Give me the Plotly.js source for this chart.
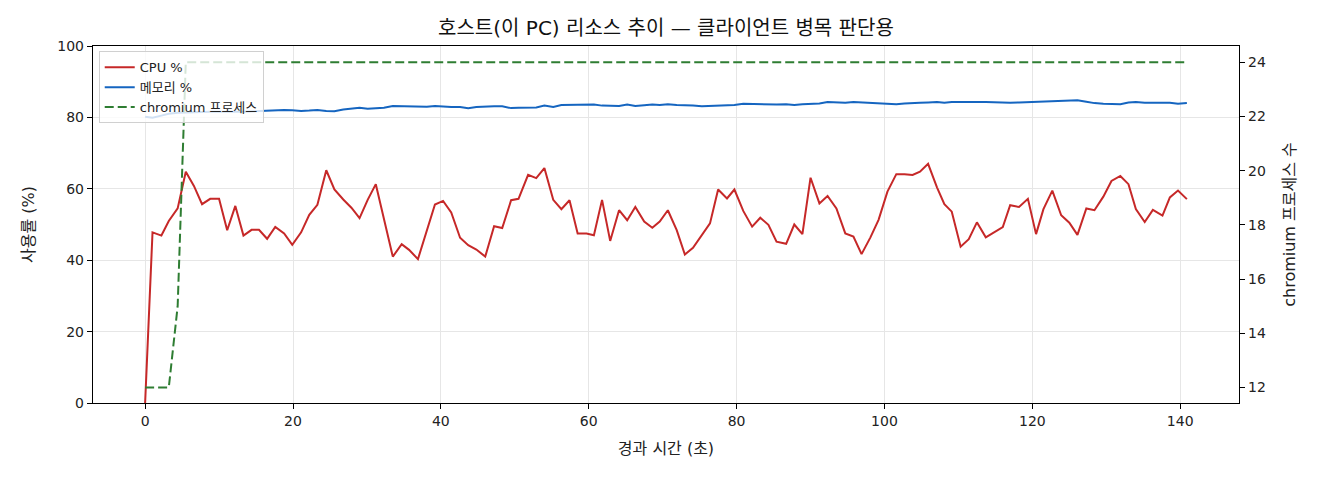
<!DOCTYPE html>
<html>
<head>
<meta charset="utf-8">
<script src="https://cdn.plot.ly/plotly-3.0.1.min.js"></script>
<style>
  html, body { margin: 0; padding: 0; background: #fff; }
  #plot { width: 1320px; height: 480px; }
</style>
</head>
<body>
<div id="plot"></div>
<script>
// elapsed seconds of each sample
const elapsed = [
    0, 1.0, 2.2, 3.2, 4.4, 5.5, 6.6, 7.7, 8.8, 10.0,
    11.1, 12.2, 13.3, 14.4, 15.4, 16.5, 17.6, 18.8, 19.9, 21.1,
    22.2, 23.3, 24.5, 25.6, 26.8, 27.9, 29.0, 30.1, 31.2, 32.3,
    33.5, 34.7, 35.7, 36.9, 38.1, 39.2, 40.3, 41.4, 42.6, 43.7,
    44.8, 46.0, 47.2, 48.3, 49.5, 50.5, 51.8, 52.9, 54.0, 55.2,
    56.3, 57.4, 58.5, 59.7, 60.7, 61.8, 62.9, 64.1, 65.2, 66.3,
    67.5, 68.6, 69.6, 70.7, 71.9, 73.0, 74.1, 75.3, 76.4, 77.5,
    78.7, 79.7, 80.9, 82.1, 83.2, 84.3, 85.4, 86.7, 87.8, 88.9,
    90.0, 91.2, 92.3, 93.5, 94.7, 95.8, 96.9, 98.1, 99.2, 100.4,
    101.6, 102.7, 103.8, 104.8, 105.9, 107.1, 108.1, 109.1, 110.3, 111.4,
    112.5, 113.7, 114.9, 116.0, 117.0, 118.2, 119.4, 120.5, 121.5, 122.7,
    123.9, 125.0, 126.1, 127.3, 128.4, 129.6, 130.7, 131.9, 133.0, 134.0,
    135.2, 136.3, 137.6, 138.6, 139.7, 140.9
]

const cpu_pct = [
    0, 47.8, 46.9, 51, 54.5, 64.8, 60.8, 55.7, 57.2, 57.2,
    48.4, 55.2, 46.9, 48.5, 48.5, 46, 49.3, 47.5, 44.3, 47.8,
    52.7, 55.5, 65.2, 59.8, 57, 54.7, 51.8, 56.9, 61.3, 51.5,
    41.0, 44.5, 42.9, 40.3, 48, 55.6, 56.6, 53.4, 46.3, 44.2,
    43, 41, 49.5, 49, 56.8, 57.2, 63.9, 63, 65.8, 56.9,
    54.3, 56.8, 47.5, 47.5, 47, 56.9, 45.4, 54, 51.2, 54.9,
    50.8, 49.1, 50.8, 54, 48.4, 41.6, 43.5, 47.1, 50.3, 59.8,
    57.3, 59.8, 53.8, 49.4, 51.9, 49.9, 45.2, 44.6, 50, 47.3,
    63.1, 55.9, 58, 54.5, 47.5, 46.6, 41.7, 46.4, 51.3, 59.2,
    64.1, 64.1, 63.9, 64.8, 67, 60.4, 55.7, 53.6, 43.8, 45.9,
    50.6, 46.4, 48, 49.3, 55.4, 54.9, 57.2, 47.3, 54.3, 59.5,
    52.6, 50.5, 47.1, 54.5, 54, 57.8, 62.2, 63.6, 61.3, 54.3,
    50.7, 54.1, 52.5, 57.6, 59.5, 57.1
]

const mem_pct = [
    80.2, 79.9, 80.5, 81.0, 81.3, 81.4, 81.5, 81.5, 81.6, 81.6,
    81.5, 81.6, 81.6, 81.7, 81.8, 81.8, 81.9, 82.1, 82.0, 81.8,
    81.9, 82.1, 81.8, 81.7, 82.2, 82.5, 82.7, 82.4, 82.6, 82.7,
    83.2, 83.1, 83.0, 82.9, 83.0, 83.2, 83.0, 82.9, 82.9, 82.6,
    82.9, 83.1, 83.1, 83.1, 82.6, 82.7, 82.7, 82.8, 83.3, 82.9,
    83.5, 83.5, 83.6, 83.7, 83.6, 83.3, 83.3, 83.2, 83.6, 83.2,
    83.4, 83.6, 83.5, 83.7, 83.5, 83.3, 83.3, 83.1, 83.2, 83.3,
    83.3, 83.5, 83.8, 83.7, 83.7, 83.7, 83.6, 83.7, 83.5, 83.7,
    83.8, 83.9, 84.3, 84.1, 84.1, 84.3, 84.2, 84.1, 84.0, 83.9,
    83.7, 83.9, 83.9, 84.1, 84.2, 84.3, 84.1, 84.3, 84.3, 84.4,
    84.3, 84.3, 84.2, 84.2, 84.1, 84.2, 84.3, 84.4, 84.6, 84.6,
    84.7, 84.7, 84.8, 84.4, 84.0, 83.8, 83.8, 83.7, 84.2, 84.3,
    84.1, 84.1, 84.2, 84.1, 83.8, 84.0
]

const chromium_count = [
    12, 12, 12, 12, 15, 24, 24, 24, 24, 24,
    24, 24, 24, 24, 24, 24, 24, 24, 24, 24,
    24, 24, 24, 24, 24, 24, 24, 24, 24, 24,
    24, 24, 24, 24, 24, 24, 24, 24, 24, 24,
    24, 24, 24, 24, 24, 24, 24, 24, 24, 24,
    24, 24, 24, 24, 24, 24, 24, 24, 24, 24,
    24, 24, 24, 24, 24, 24, 24, 24, 24, 24,
    24, 24, 24, 24, 24, 24, 24, 24, 24, 24,
    24, 24, 24, 24, 24, 24, 24, 24, 24, 24,
    24, 24, 24, 24, 24, 24, 24, 24, 24, 24,
    24, 24, 24, 24, 24, 24, 24, 24, 24, 24,
    24, 24, 24, 24, 24, 24, 24, 24, 24, 24,
    24, 24, 24, 24, 24, 24
]

const font_family = '"DejaVu Sans", "Noto Sans CJK KR", sans-serif'
const grid_color = '#e6e6e6'

let data = []

data.push({type: 'scatter', mode: 'lines', name: 'CPU %', x: elapsed, y: cpu_pct,
           line: {color: '#c62828', width: 2}, hoverinfo: 'none'})
data.push({type: 'scatter', mode: 'lines', name: '메모리 %', x: elapsed, y: mem_pct,
           line: {color: '#1565c0', width: 2}, hoverinfo: 'none'})
data.push({type: 'scatter', mode: 'lines', name: 'chromium 프로세스', x: elapsed, y: chromium_count, yaxis: 'y2',
           line: {color: '#2e7d32', width: 2, dash: '9px,4px'}, hoverinfo: 'none'})

const layout = {
    width: 1320, height: 480,
    paper_bgcolor: '#ffffff', plot_bgcolor: '#ffffff',
    font: {family: font_family, size: 14, color: '#222'},
    margin: {l: 93, r: 81, t: 46, b: 77},
    title: {text: '호스트(이 PC) 리소스 추이 — 클라이언트 병목 판단용', x: 0.5045, xanchor: 'center', y: 0.942, yanchor: 'middle',
            font: {family: font_family, size: 20, color: '#111'}},
    xaxis: {range: [-7.05, 147.95], tickvals: [0, 20, 40, 60, 80, 100, 120, 140],
            showgrid: true, gridcolor: grid_color, gridwidth: 1, zeroline: false,
            showline: true, linecolor: '#000', linewidth: 1.2, mirror: true,
            ticks: 'outside', ticklen: 5, tickcolor: '#000',
            title: {text: '경과 시간 (초)', standoff: 14, font: {size: 16}}},
    yaxis: {range: [0, 100], tickvals: [0, 20, 40, 60, 80, 100],
            showgrid: true, gridcolor: grid_color, gridwidth: 1, zeroline: false,
            showline: true, linecolor: '#000', linewidth: 1.2, mirror: true,
            ticks: 'outside', ticklen: 5, tickcolor: '#000',
            title: {text: '사용률 (%)', standoff: 18, font: {size: 16}}},
    yaxis2: {overlaying: 'y', side: 'right', range: [11.43, 24.6], tickvals: [12, 14, 16, 18, 20, 22, 24],
             showgrid: false, zeroline: false, showline: true, linecolor: '#000', linewidth: 1.2,
             ticks: 'outside', ticklen: 5, tickcolor: '#000',
             title: {text: 'chromium 프로세스 수', standoff: 18, font: {size: 16}}},
    showlegend: true,
    legend: {x: 0.005, y: 0.985, xanchor: 'left', yanchor: 'top',
             bgcolor: 'rgba(255,255,255,0.8)', bordercolor: '#d0d0d0', borderwidth: 1,
             font: {size: 13, color: '#222'}, tracegroupgap: 0, itemwidth: 30},
}

let plot = document.getElementById('plot')
Plotly.newPlot(plot, data, layout, {displayModeBar: false, staticPlot: true})
</script>
</body>
</html>
